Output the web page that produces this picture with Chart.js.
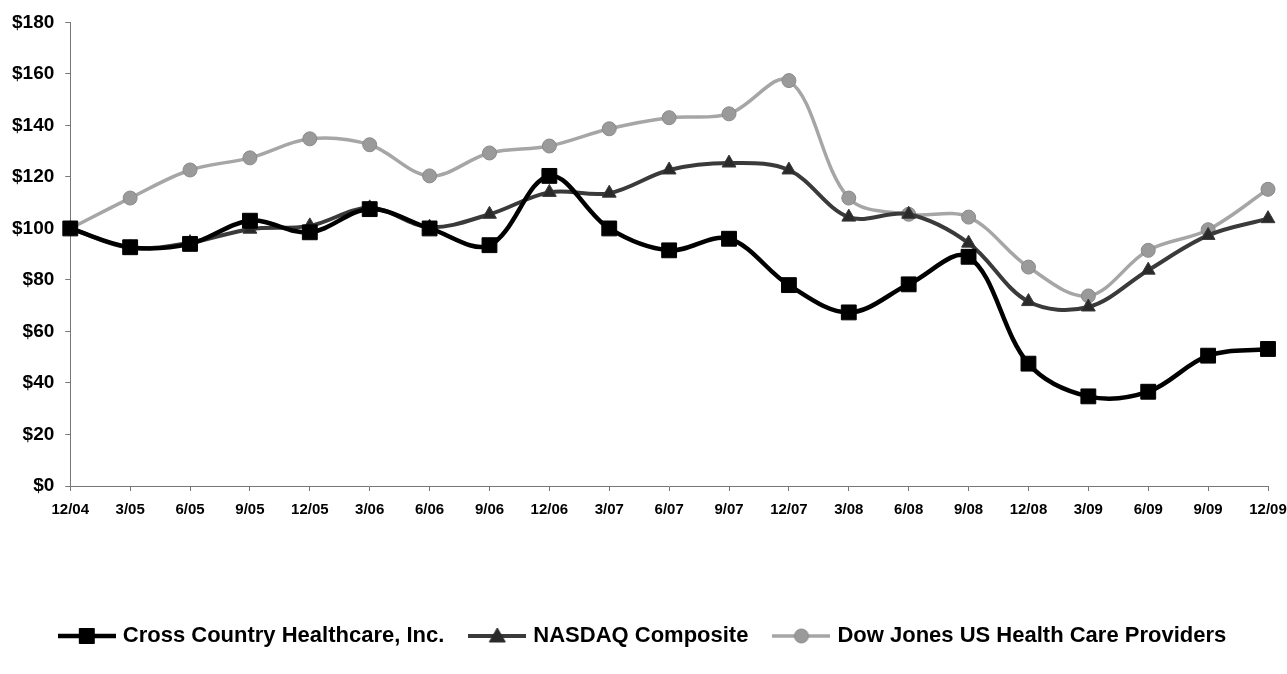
<!DOCTYPE html>
<html>
<head>
<meta charset="utf-8">
<script src="https://cdn.jsdelivr.net/npm/chart.js@4"></script>
<style>
  html, body { margin: 0; padding: 0; background: #fff; }
  #wrap { width: 1287px; height: 674px; }
</style>
</head>
<body>
<div id="wrap"><canvas id="chart" width="1287" height="674"></canvas></div>
<script>
const quarters = ['12/04', '3/05', '6/05', '9/05', '12/05', '3/06', '6/06', '9/06', '12/06', '3/07', '6/07',
    '9/07', '12/07', '3/08', '6/08', '9/08', '12/08', '3/09', '6/09', '9/09', '12/09'];

const crossCountry = [100, 92.7, 94, 103, 98.5, 107.5, 100, 93.5, 120.4, 100, 91.5,
    96, 78, 67.4, 78.3, 89, 47.5, 34.8, 36.6, 50.6, 53.2];
const nasdaq = [100, 92.5, 94.5, 99.7, 101, 108, 100.5, 105.5, 114, 113.7, 122.7,
    125.4, 122.7, 104.4, 105.5, 94.3, 71.6, 69.5, 83.8, 97.3, 103.8];
const dowJones = [100, 111.8, 122.7, 127.4, 134.8, 132.5, 120.4, 129.3, 132, 138.7, 143,
    144.5, 157.4, 111.8, 105.5, 104.4, 85, 73.8, 91.5, 99.5, 115.2];

const yTicks = [0, 20, 40, 60, 80, 100, 120, 140, 160, 180];

const FONT = '"Liberation Sans", Arial, sans-serif';

// line + marker sample for the legend, like the original
function legendIcon(color, lineWidth, marker, markerColor, markerBorder) {
    const c = document.createElement('canvas');
    c.width = 58;
    c.height = 20;
    const ctx = c.getContext('2d');
    ctx.strokeStyle = color;
    ctx.lineWidth = lineWidth;
    ctx.beginPath();
    ctx.moveTo(0, 10);
    ctx.lineTo(58, 10);
    ctx.stroke();
    ctx.fillStyle = markerColor;
    ctx.strokeStyle = markerBorder;
    ctx.lineWidth = 1;
    ctx.beginPath();
    if (marker === 'rect') {
        ctx.rect(29 - 7.5, 10 - 7.5, 15, 15);
    } else if (marker === 'triangle') {
        ctx.moveTo(29, 2);
        ctx.lineTo(37, 16);
        ctx.lineTo(21, 16);
        ctx.closePath();
    } else {
        ctx.arc(29, 10, 7, 0, Math.PI * 2);
    }
    ctx.fill();
    ctx.stroke();
    return c;
}

const icons = [
    legendIcon('#000', 4.5, 'rect', '#000', '#000'),
    legendIcon('#3a3a3a', 4, 'triangle', '#2a2a2a', '#2a2a2a'),
    legendIcon('#a6a6a6', 3.5, 'circle', '#9a9a9a', '#8a8a8a')
];

const ctx = document.getElementById('chart').getContext('2d');

new Chart(ctx, {
    type: 'line',
    data: {
        labels: quarters,
        datasets: [
            {
                label: 'Cross Country Healthcare, Inc.',
                data: crossCountry,
                borderColor: '#000',
                backgroundColor: '#000',
                borderWidth: 4.5,
                pointStyle: 'rect',
                pointRadius: 10.5,
                pointBorderWidth: 1,
                order: 1
            },
            {
                label: 'NASDAQ Composite',
                data: nasdaq,
                borderColor: '#3a3a3a',
                backgroundColor: '#2a2a2a',
                borderWidth: 4,
                pointStyle: 'triangle',
                pointRadius: 8,
                pointBorderWidth: 1,
                order: 2
            },
            {
                label: 'Dow Jones US Health Care Providers',
                data: dowJones,
                borderColor: '#a6a6a6',
                backgroundColor: '#9a9a9a',
                pointBorderColor: '#8a8a8a',
                borderWidth: 3.5,
                pointStyle: 'circle',
                pointRadius: 7,
                pointBorderWidth: 1,
                order: 3
            }
        ]
    },
    options: {
        responsive: false,
        animation: false,
        elements: {
            line: { tension: 0.35, fill: false }
        },
        layout: {
            padding: { left: 1, right: 0, top: 14, bottom: 17 }
        },
        plugins: {
            tooltip: { enabled: false },
            legend: {
                position: 'bottom',
                labels: {
                    usePointStyle: true,
                    pointStyleWidth: 50,
                    padding: 28,
                    color: '#000',
                    font: { family: FONT, size: 22, weight: 'bold' },
                    generateLabels: (chart) => {
                        const items = Chart.defaults.plugins.legend.labels.generateLabels(chart);
                        items.forEach((item, i) => { item.pointStyle = icons[i]; });
                        return items;
                    }
                }
            }
        },
        scales: {
            x: {
                offset: false,
                grid: { display: true, drawOnChartArea: false, color: '#777', tickLength: 5 },
                border: { color: '#777', width: 1 },
                ticks: {
                    color: '#000',
                    maxRotation: 0,
                    autoSkip: false,
                    padding: 10,
                    font: { family: FONT, size: 15, weight: 'bold' }
                },
                afterFit: (scale) => {
                    scale.height += 68;
                    scale.paddingRight = 19; // let the last tick sit near the right edge
                }
            },
            y: {
                min: 0,
                max: 180,
                afterBuildTicks: (scale) => { scale.ticks = yTicks.map(v => ({ value: v })); },
                grid: { display: true, drawOnChartArea: false, color: '#777', tickLength: 5 },
                border: { color: '#777', width: 1 },
                ticks: {
                    color: '#000',
                    padding: 11,
                    font: { family: FONT, size: 19, weight: 'bold' },
                    callback: (v) => '$' + v
                }
            }
        }
    }
});
</script>
</body>
</html>
